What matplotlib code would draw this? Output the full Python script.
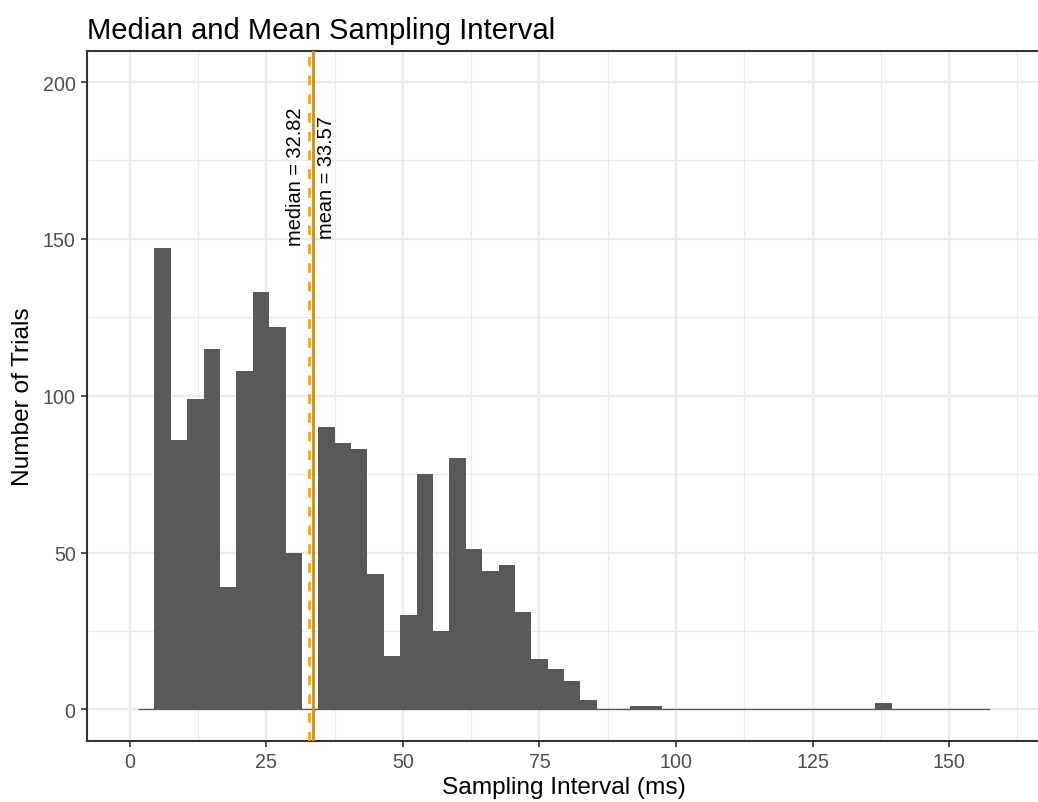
import numpy as np
import matplotlib
matplotlib.use("Agg")
import matplotlib.pyplot as plt
from matplotlib.ticker import MultipleLocator

plt.rcParams['font.family'] = ['Liberation Sans', 'DejaVu Sans']
plt.rcParams['lines.scale_dashes'] = False

# ---- data ----
bin_width = 3
bin_centers = np.arange(3, 157, 3)  # 3, 6, ..., 156  (52 bins)
counts = [0, 147, 86, 99, 115, 39, 108, 133, 122, 50,
          0, 90, 85, 83, 43, 17, 30, 75, 25, 80,
          51, 44, 46, 31, 16, 13, 9, 3, 0, 0,
          1, 1, 0, 0, 0, 0, 0, 0, 0, 0,
          0, 0, 0, 0, 0, 2, 0, 0, 0, 0,
          0, 0]
median_val = 32.82
mean_val = 33.57
x_ticks = [0, 25, 50, 75, 100, 125, 150]
y_ticks = [0, 50, 100, 150, 200]

title = "Median and Mean Sampling Interval"
xlabel = "Sampling Interval (ms)"
ylabel = "Number of Trials"

# ---- figure ----
W, H = 1038, 803
fig = plt.figure(figsize=(W / 100, H / 100), dpi=100)
left, right, top, bottom = 86.7, 1042, 51.7, 741.7
ax = fig.add_axes([left / W, 1 - bottom / H, (right - left) / W, (bottom - top) / H])

grid_major = '#EBEBEB'
bar_col = '#595959'
dark = '#333333'

ax.set_xlim(-7.9, 167.0)
ax.set_ylim(-10, 210)

# grid
ax.xaxis.set_major_locator(MultipleLocator(25))
ax.xaxis.set_minor_locator(MultipleLocator(12.5))
ax.yaxis.set_major_locator(MultipleLocator(50))
ax.yaxis.set_minor_locator(MultipleLocator(25))
ax.grid(which='major', color=grid_major, lw=1.7, zorder=0)
ax.grid(which='minor', color=grid_major, lw=0.85, zorder=0)
ax.set_axisbelow(True)

# histogram bars
ax.bar(bin_centers, counts, width=bin_width, color=bar_col, linewidth=0, zorder=2)
edges_lo = bin_centers[0] - bin_width / 2
edges_hi = bin_centers[-1] + bin_width / 2
ax.hlines(0, edges_lo, edges_hi, color=bar_col, lw=0.9, zorder=2)

# median / mean lines
ax.axvline(median_val, color='#FFA500', lw=2.0, ls=(0, (7, 6.5)), zorder=3)
ax.axvline(mean_val, color='#DB8C00', lw=2.0, zorder=3)

ax.text(median_val - 2.45, 170, f"median = {median_val:.2f}", rotation=90,
        ha='center', va='center', fontsize=14.4, color='black', zorder=4)
ax.text(mean_val + 2.5, 170, f"mean = {mean_val:.2f}", rotation=90,
        ha='center', va='center', fontsize=14.4, color='black', zorder=4)

# ticks
ax.set_xticks(x_ticks)
ax.set_yticks(y_ticks)
ax.set_xticklabels([str(t) for t in x_ticks])
ax.set_yticklabels([str(t) for t in y_ticks])
ax.tick_params(which='major', length=4.4, width=1.2, color=dark,
               labelsize=14.1, labelcolor='#4D4D4D', pad=3.5)
ax.tick_params(which='minor', length=0)

for s in ax.spines.values():
    s.set_color(dark)
    s.set_linewidth(1.5)
ax.spines['right'].set_visible(False)

ax.set_xlabel(xlabel, fontsize=17.6, color='black', labelpad=4)
ax.set_ylabel(ylabel, fontsize=17.6, color='black', labelpad=6)
ax.set_title(title, loc='left', fontsize=21.1, color='black', pad=9)

fig.savefig("out.png", dpi=100)
